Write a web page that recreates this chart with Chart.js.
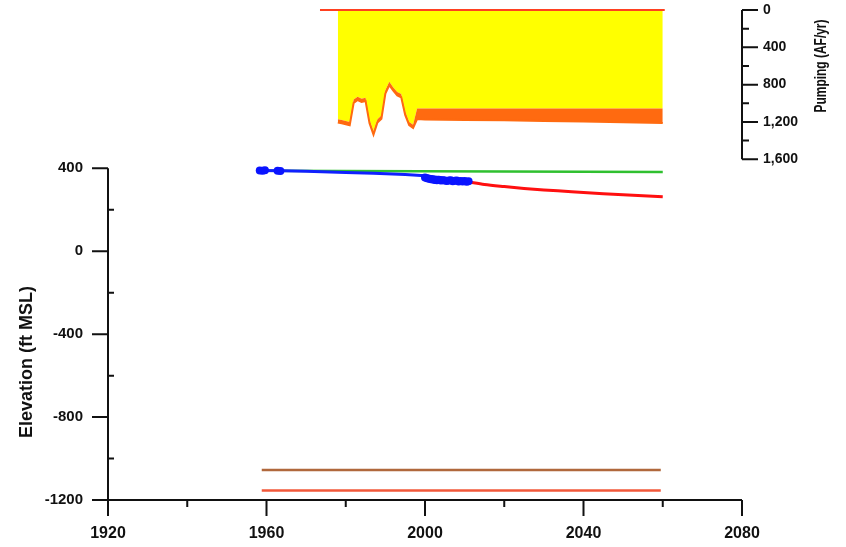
<!DOCTYPE html>
<html>
<head>
<meta charset="utf-8">
<title>Hydrograph</title>
<script src="https://cdn.jsdelivr.net/npm/chart.js@4.4.1/dist/chart.umd.min.js"></script>
<style>
body{margin:0;background:#fff;}
#wrap{position:relative;width:846px;height:547px;}
</style>
</head>
<body>
<div id="wrap"><canvas id="hydroChart"></canvas></div>
<script>
// tick labels
const xTicks = [1920, 1960, 2000, 2040, 2080];
const elevTicks = [-1200, -800, -400, 0, 400];
const pumpTicks = [0, 400, 800, 1200, 1600];

// observed water levels (blue dots)
const obsYears = [1958.3, 1959.0, 1959.6, 1962.8, 1963.5, 2000.0, 2000.5, 2001.0, 2001.5, 2002.0, 2002.5, 2003.0, 2003.5, 2004.0, 2004.5, 2005.0, 2005.5, 2006.0, 2006.5, 2007.0, 2007.5, 2008.0, 2008.5, 2009.0, 2009.5, 2010.0, 2010.5, 2011.0];
const obsElev = [390, 388, 391, 389, 387, 356, 352, 350, 347, 346, 344, 343, 345, 341, 343, 342, 339, 341, 343, 338, 340, 342, 337, 339, 336, 339, 335, 338];

// simulated historical (blue line)
const histYears = [1958, 1964, 1970, 1980, 1987, 1995, 2000, 2005, 2011];
const histElev = [390, 388, 386, 380, 376, 370, 364, 352, 338];

// projected (red line)
const projYears = [2011, 2015, 2020, 2025, 2030, 2037, 2045, 2050, 2055, 2060];
const projElev = [334, 322, 312, 303, 296, 287, 278, 273, 268, 263];

// green reference line
const greenYears = [1958, 2060];
const greenElev = [388, 383];

// lower horizontal lines
const upperLineYears = [1958.8, 2059.5];
const upperLineElev = [-1055, -1055];
const lowerLineYears = [1958.8, 2059.5];
const lowerLineElev = [-1154, -1154];

// pumping (right axis)
const zeroLineYears = [1973.5, 2060.5];
const zeroLineVals = [0, 0];
const pumpYears = [1978, 1979, 1980, 1981, 1982, 1983, 1984, 1985, 1986, 1987, 1988, 1989, 1990, 1991, 1992, 1993, 1994, 1995, 1996, 1997, 1998, 1999, 2000, 2010, 2020, 2030, 2040, 2050, 2060];
const pumpYellow = [1170, 1180, 1190, 1200, 960, 930, 950, 940, 1180, 1300, 1170, 1130, 860, 770, 830, 880, 900, 1090, 1200, 1230, 1056, 1056, 1056, 1056, 1056, 1056, 1056, 1056, 1056];
const pumpOrange = [1205, 1215, 1225, 1235, 995, 965, 985, 975, 1215, 1335, 1205, 1165, 895, 805, 865, 915, 935, 1125, 1235, 1265, 1170, 1172, 1175, 1178, 1183, 1190, 1196, 1203, 1210];

function pts(xs, ys){
return xs.map((x, i) => ({x: x, y: ys[i]}));
}

function fixY(width){
return s => { s.width = width; s.paddingTop = 0; s.paddingBottom = 0; };
}

const axisPlugin = {
id: 'axisLines',
afterDatasetsDraw(chart){
const {ctx, scales: {x, y, y2}} = chart;
ctx.save();
ctx.strokeStyle = '#111';
ctx.lineWidth = 2;
ctx.beginPath();

// x axis
const xBase = y.getPixelForValue(elevTicks[0]);
ctx.moveTo(x.getPixelForValue(xTicks[0]), xBase);
ctx.lineTo(x.getPixelForValue(xTicks[xTicks.length - 1]), xBase);
xTicks.forEach((t, i) => {
const px = x.getPixelForValue(t);
ctx.moveTo(px, xBase); ctx.lineTo(px, xBase + 16);
if(i < xTicks.length - 1){
const mx = x.getPixelForValue((t + xTicks[i + 1]) / 2);
ctx.moveTo(mx, xBase); ctx.lineTo(mx, xBase + 7);
}
});

// left elevation axis
const xl = x.getPixelForValue(xTicks[0]);
ctx.moveTo(xl, y.getPixelForValue(elevTicks[elevTicks.length - 1]));
ctx.lineTo(xl, xBase);
elevTicks.forEach((t, i) => {
const py = y.getPixelForValue(t);
ctx.moveTo(xl - 16, py); ctx.lineTo(xl, py);
if(i < elevTicks.length - 1){
const my = y.getPixelForValue((t + elevTicks[i + 1]) / 2);
ctx.moveTo(xl, my); ctx.lineTo(xl + 6, my);
}
});

// right pumping axis
const xr = x.getPixelForValue(xTicks[xTicks.length - 1]);
ctx.moveTo(xr, y2.getPixelForValue(pumpTicks[0]));
ctx.lineTo(xr, y2.getPixelForValue(pumpTicks[pumpTicks.length - 1]));
pumpTicks.forEach((t, i) => {
const py = y2.getPixelForValue(t);
ctx.moveTo(xr, py); ctx.lineTo(xr + 16, py);
if(i < pumpTicks.length - 1){
const my = y2.getPixelForValue((t + pumpTicks[i + 1]) / 2);
ctx.moveTo(xr, my); ctx.lineTo(xr + 7, my);
}
});
ctx.stroke();

// axis titles
ctx.fillStyle = '#111';
ctx.textAlign = 'center';
ctx.textBaseline = 'middle';
ctx.font = 'bold 18px "Liberation Sans", Arial, sans-serif';
ctx.save();
ctx.translate(27, 362);
ctx.rotate(-Math.PI / 2);
ctx.fillText('Elevation (ft MSL)', 0, 0);
ctx.restore();

ctx.save();
const pTitle = 'Pumping (AF/yr)';
ctx.font = 'bold 17px "Liberation Sans", Arial, sans-serif';
const squeeze = 93 / ctx.measureText(pTitle).width;
ctx.translate(821, 66);
ctx.rotate(-Math.PI / 2);
ctx.scale(squeeze, 1);
ctx.fillText(pTitle, 0, 0);
ctx.restore();
ctx.restore();
}
};

const ctx = document.getElementById('hydroChart');

new Chart(ctx, {
type: 'line',
data: {
datasets: [
{
label: 'Pumping',
data: pts(pumpYears, pumpYellow),
yAxisID: 'y2',
borderWidth: 0,
pointRadius: 0,
backgroundColor: '#ffff00',
fill: {value: 0},
order: 9
},
{
label: 'Pumping 2',
data: pts(pumpYears, pumpOrange),
yAxisID: 'y2',
borderColor: '#ff6a10',
borderWidth: 2,
pointRadius: 0,
backgroundColor: '#ff6a10',
fill: '-1',
order: 8
},
{
label: 'Zero',
data: pts(zeroLineYears, zeroLineVals),
yAxisID: 'y2',
borderColor: '#ff4020',
borderWidth: 2,
pointRadius: 0,
clip: false,
order: 7
},
{
label: 'Upper',
data: pts(upperLineYears, upperLineElev),
borderColor: '#b0683c',
borderWidth: 2.5,
pointRadius: 0,
order: 6
},
{
label: 'Lower',
data: pts(lowerLineYears, lowerLineElev),
borderColor: '#f2583a',
borderWidth: 2.5,
pointRadius: 0,
order: 6
},
{
label: 'Green',
data: pts(greenYears, greenElev),
borderColor: '#2fc02f',
borderWidth: 2.5,
pointRadius: 0,
order: 5
},
{
label: 'Projected',
data: pts(projYears, projElev),
borderColor: '#ff1010',
borderWidth: 3,
pointRadius: 0,
tension: 0.3,
order: 4
},
{
label: 'Historical',
data: pts(histYears, histElev),
borderColor: '#1020ff',
borderWidth: 3,
pointRadius: 0,
order: 3
},
{
label: 'Observed',
data: pts(obsYears, obsElev),
showLine: false,
pointRadius: 4,
pointBorderWidth: 0,
pointBackgroundColor: '#0a14ff',
order: 2
}
]
},
options: {
responsive: true,
maintainAspectRatio: false,
animation: false,
layout: {padding: {top: 10, left: 0, right: 0, bottom: 0}},
plugins: {legend: {display: false}, tooltip: {enabled: false}},
scales: {
x: {
type: 'linear',
min: 1920,
max: 2080,
afterFit: s => { s.height = 47; s.paddingLeft = 0; s.paddingRight = 0; },
afterBuildTicks: s => { s.ticks = xTicks.map(v => ({value: v})); },
grid: {display: false, drawTicks: false},
border: {display: false},
ticks: {padding: 24, color: '#111', font: {family: '"Liberation Sans", Arial', size: 16, weight: 'bold'}, callback: v => String(v)}
},
y: {
position: 'left',
min: -1200,
max: 1164,
afterFit: fixY(108),
afterBuildTicks: s => { s.ticks = elevTicks.map(v => ({value: v})); },
grid: {display: false, drawTicks: false},
border: {display: false},
ticks: {padding: 25, color: '#111', font: {family: '"Liberation Sans", Arial', size: 15, weight: 'bold'}, callback: v => String(v)}
},
y2: {
position: 'right',
reverse: true,
min: 0,
max: 5252,
afterFit: fixY(104),
afterBuildTicks: s => { s.ticks = pumpTicks.map(v => ({value: v})); },
grid: {display: false, drawTicks: false},
border: {display: false},
ticks: {padding: 21, color: '#111', font: {family: '"Liberation Sans", Arial', size: 14, weight: 'bold'}, callback: v => v.toLocaleString('en-US')}
}
}
},
plugins: [axisPlugin]
});
</script>
</body>
</html>
